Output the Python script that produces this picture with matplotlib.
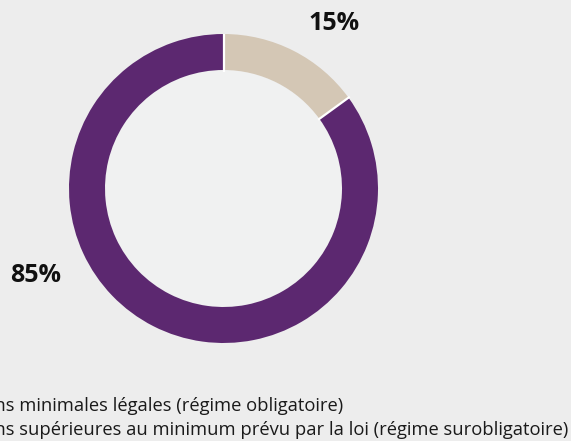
import numpy as np
import matplotlib.pyplot as plt

labels = [
    "Prestations supérieures au minimum prévu par la loi (régime surobligatoire)",
    "Prestations minimales légales (régime obligatoire)",
]
values = [15, 85]
pct_labels = ["15%", "85%"]

colors = ["#d4c7b5", "#5c2870"]
bg = "#ededed"
inner = "#f0f1f1"

W, H = 571, 441
fig = plt.figure(figsize=(W / 100, H / 100), dpi=100, facecolor=bg)

# donut: centre (223.5, 188.5) px, radius 154.5 px
cx, cy, r = 223.5, 188.5, 154.5
ax = fig.add_axes([(cx - r) / W, (H - cy - r) / H, 2 * r / W, 2 * r / H])

ring = 0.233
ax.add_patch(plt.Circle((0, 0), 1 - ring, color=inner, zorder=0))
ax.pie(values, colors=colors, startangle=90, counterclock=False, radius=1,
       wedgeprops=dict(width=ring, linewidth=0))

# white separators between the slices only
bounds = 90 - 360 * np.cumsum([0] + values[:-1]) / sum(values)
for a in np.deg2rad(bounds):
    ax.plot([(1 - ring - 0.01) * np.cos(a), 1.01 * np.cos(a)],
            [(1 - ring - 0.01) * np.sin(a), 1.01 * np.sin(a)],
            color="white", lw=1.6, solid_capstyle="butt")

ax.set_xlim(-1, 1)
ax.set_ylim(-1, 1)
ax.set_aspect("equal")
ax.axis("off")

# percentage labels
label_pos = [(0.715, 1.065), (-1.214, -0.56)]
for (x, y), t in zip(label_pos, pct_labels):
    ax.text(x, y, t, ha="center", va="center", fontsize=18, fontweight="bold",
            family="Open Sans", color="#111111", clip_on=False)

# legend text, cut off on the left edge like the source
t2 = fig.text(568 / W, 1 - 435 / H, labels[0], ha="right", va="baseline",
              fontsize=13.2, family="Open Sans", color="#1a1a1a")
fig.canvas.draw()
x0 = t2.get_window_extent().x0
fig.text(x0 / W, 1 - 411 / H, labels[1], ha="left", va="baseline",
         fontsize=13.2, family="Open Sans", color="#1a1a1a")

fig.savefig("out.png", dpi=100, facecolor=bg)
